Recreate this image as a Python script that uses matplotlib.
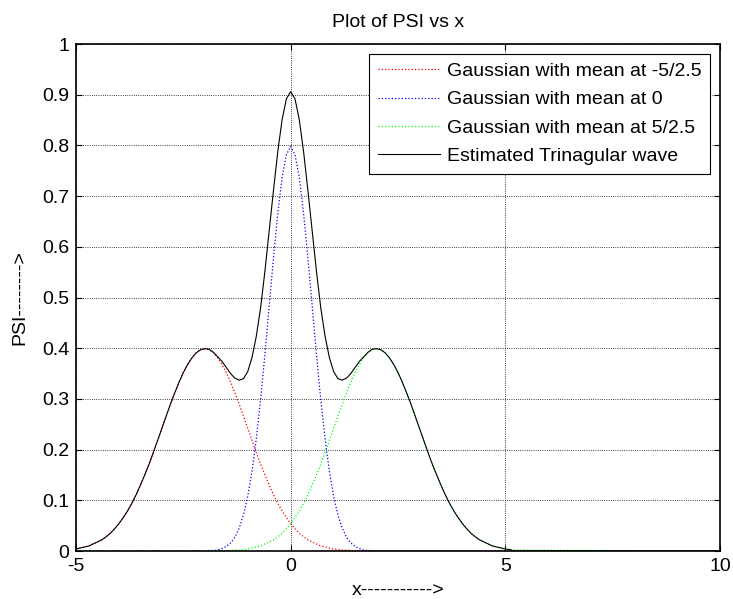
import matplotlib
matplotlib.use("Agg")
import matplotlib.pyplot as plt
import numpy as np

plt.rcParams['font.family'] = ['Liberation Sans', 'DejaVu Sans']

x = [round(-5.0 + 0.1 * i, 1) for i in range(103)] + [10.0]

red = [0.004, 0.006, 0.008, 0.010, 0.014, 0.018, 0.022, 0.028, 0.035, 0.044,
       0.054, 0.066, 0.079, 0.094, 0.111, 0.130, 0.150, 0.171, 0.194, 0.218,
       0.242, 0.266, 0.290, 0.312, 0.333, 0.352, 0.368, 0.381, 0.391, 0.397,
       0.399, 0.397, 0.391, 0.381, 0.368, 0.352, 0.333, 0.312, 0.290, 0.266,
       0.242, 0.218, 0.194, 0.171, 0.150, 0.130, 0.111, 0.094, 0.079, 0.066,
       0.054, 0.044, 0.035, 0.028, 0.022, 0.018, 0.014, 0.010, 0.008, 0.006,
       0.004, 0.003, 0.002, 0.002, 0.001, 0.001, 0.001] + [0.0] * 36 + [0.0]

blue = [0.0] * 31 + [0.001, 0.001, 0.002, 0.005, 0.009, 0.016, 0.027, 0.045, 0.071,
                     0.108, 0.158, 0.222, 0.299, 0.388, 0.484, 0.579, 0.666, 0.737,
                     0.782, 0.798, 0.782, 0.737, 0.666, 0.579, 0.484, 0.388, 0.299,
                     0.222, 0.158, 0.108, 0.071, 0.045, 0.027, 0.016, 0.009, 0.005,
                     0.002, 0.001, 0.001] + [0.0] * 33 + [0.0]

green = [0.0] * 34 + [0.001, 0.001, 0.001, 0.002, 0.002, 0.003, 0.004, 0.006, 0.008,
                      0.010, 0.014, 0.018, 0.022, 0.028, 0.035, 0.044, 0.054, 0.066,
                      0.079, 0.094, 0.111, 0.130, 0.150, 0.171, 0.194, 0.218, 0.242,
                      0.266, 0.290, 0.312, 0.333, 0.352, 0.368, 0.381, 0.391, 0.397,
                      0.399, 0.397, 0.391, 0.381, 0.368, 0.352, 0.333, 0.312, 0.290,
                      0.266, 0.242, 0.218, 0.194, 0.171, 0.150, 0.130, 0.111, 0.094,
                      0.079, 0.066, 0.054, 0.044, 0.035, 0.028, 0.022, 0.018, 0.014,
                      0.010, 0.008, 0.006, 0.004, 0.003, 0.002] + [0.0]

black = [0.004, 0.006, 0.008, 0.010, 0.014, 0.018, 0.022, 0.028, 0.035, 0.044,
         0.054, 0.066, 0.079, 0.094, 0.111, 0.130, 0.150, 0.171, 0.194, 0.218,
         0.242, 0.266, 0.290, 0.312, 0.333, 0.352, 0.368, 0.381, 0.391, 0.397,
         0.399, 0.398, 0.392, 0.383, 0.374, 0.362, 0.350, 0.341, 0.337, 0.340,
         0.354, 0.382, 0.424, 0.480, 0.552, 0.632, 0.712, 0.788, 0.851, 0.892,
         0.906,
         0.892, 0.851, 0.788, 0.712, 0.632, 0.552, 0.480, 0.424, 0.382, 0.354,
         0.340, 0.337, 0.341, 0.350, 0.362, 0.374, 0.383, 0.392, 0.398, 0.399,
         0.397, 0.391, 0.381, 0.368, 0.352, 0.333, 0.312, 0.290, 0.266, 0.242,
         0.218, 0.194, 0.171, 0.150, 0.130, 0.111, 0.094, 0.079, 0.066, 0.054,
         0.044, 0.035, 0.028, 0.022, 0.018, 0.014, 0.010, 0.008, 0.006, 0.004,
         0.003, 0.000, 0.0]

labels = ['Gaussian with mean at -5/2.5', 'Gaussian with mean at 0',
          'Gaussian with mean at 5/2.5', 'Estimated Trinagular wave']
xticks = [-5, 0, 5, 10]
yticks = [0, 0.1, 0.2, 0.3, 0.4, 0.5, 0.6, 0.7, 0.8, 0.9, 1]
yticklabels = ['0', '0.1', '0.2', '0.3', '0.4', '0.5', '0.6', '0.7', '0.8', '0.9', '1']

FS = 14

fig = plt.figure(figsize=(7.33, 5.99), dpi=100)
ax = fig.add_axes([0.1037, 0.0801, 0.8786, 0.8464])

ax.plot(x, red, color='#ff0000', linestyle=':', linewidth=0.9, label=labels[0])
ax.plot(x, blue, color='#0000ff', linestyle=':', linewidth=0.9, label=labels[1])
ax.plot(x, green, color='#00ff00', linestyle=':', linewidth=0.9, label=labels[2])
ax.plot(x, black, color='black', linestyle='-', linewidth=0.8, label=labels[3])

ax.set_xlim(-5, 10)
ax.set_ylim(0, 1)
ax.set_xticks(xticks)
ax.set_xticklabels([str(t) for t in xticks])
ax.set_yticks(yticks)
ax.set_yticklabels(yticklabels)
ax.tick_params(direction='in', top=True, right=True, labelsize=FS, length=4, width=0.8, pad=5)
ax.grid(True, color='black', linestyle=':', linewidth=0.6)
for s in ax.spines.values():
    s.set_linewidth(1.2)

ax.set_title('Plot of PSI vs x', fontsize=FS, pad=12)
ax.set_xlabel('x----------->', fontsize=FS, labelpad=5)
ax.set_ylabel('PSI-------->', fontsize=FS, labelpad=10)

leg = ax.legend(loc='upper right', fontsize=FS, frameon=True, fancybox=False,
                edgecolor='black', framealpha=1, borderaxespad=0.5,
                handlelength=3.2, handletextpad=0.35, labelspacing=0.55, borderpad=0.45)
leg.get_frame().set_linewidth(0.8)

fig.savefig('out.png', dpi=100)
